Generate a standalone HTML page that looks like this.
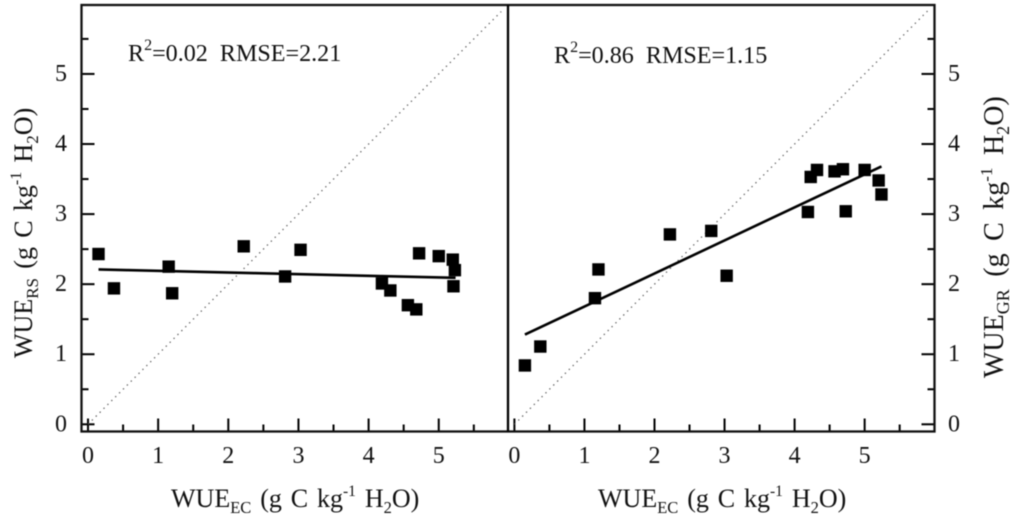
<!DOCTYPE html>
<html lang="en">
<head>
<meta charset="utf-8">
<title>WUE comparison scatter plots</title>
<style>
html,body{margin:0;padding:0;background:#fff;width:1024px;height:525px;overflow:hidden}
svg{display:block;filter:blur(0.45px)}
text{font-family:"Liberation Serif",serif;fill:#111;white-space:pre}
</style>
</head>
<body>
<svg id="chart" xmlns="http://www.w3.org/2000/svg" width="1024" height="525" viewBox="0 0 1024 525">
  <rect x="0" y="0" width="1024" height="525" fill="#fff"/>
  <g id="left-panel"></g>
  <g id="right-panel"></g>
  <rect x="81.5" y="5" width="853" height="426.5" fill="none" stroke="#111" stroke-width="2.3"/>
  <line x1="508" y1="5" x2="508" y2="431.5" stroke="#000" stroke-width="2.3"/>

  <text x="128" y="61" font-size="24.1" xml:space="preserve">R<tspan font-size="16" dy="-11">2</tspan><tspan dy="11">=0.02  RMSE=2.21</tspan></text>
  <text x="554" y="63" font-size="24.1" xml:space="preserve">R<tspan font-size="16" dy="-11">2</tspan><tspan dy="11">=0.86  RMSE=1.15</tspan></text>

  <text x="171" y="507" font-size="26" word-spacing="2.4" xml:space="preserve">WUE<tspan font-size="16.5" dy="6">EC</tspan><tspan dy="-6"> (g C kg</tspan><tspan font-size="15.5" dy="-11">-1</tspan><tspan dy="11"> H</tspan><tspan font-size="16.5" dy="6">2</tspan><tspan dy="-6">O)</tspan></text>
  <text x="598" y="507" font-size="26" word-spacing="2.4" xml:space="preserve">WUE<tspan font-size="16.5" dy="6">EC</tspan><tspan dy="-6"> (g C kg</tspan><tspan font-size="15.5" dy="-11">-1</tspan><tspan dy="11"> H</tspan><tspan font-size="16.5" dy="6">2</tspan><tspan dy="-6">O)</tspan></text>
  <text transform="translate(32 358) rotate(-90)" font-size="26" word-spacing="2.8" xml:space="preserve">WUE<tspan font-size="17" dy="6">RS</tspan><tspan dy="-6"> (g C kg</tspan><tspan font-size="16" dy="-11">-1</tspan><tspan dy="11"> H</tspan><tspan font-size="17" dy="6">2</tspan><tspan dy="-6">O)</tspan></text>
  <text transform="translate(1003 378) rotate(-90)" font-size="28" word-spacing="5.5" xml:space="preserve">WUE<tspan font-size="18" dy="6">GR</tspan><tspan dy="-6"> (g C kg</tspan><tspan font-size="17" dy="-11">-1</tspan><tspan dy="11"> H</tspan><tspan font-size="18" dy="6">2</tspan><tspan dy="-6">O)</tspan></text>
</svg>
<script>
// Shared data
var ecValues = [0.15, 0.37, 1.15, 1.20, 2.22, 2.81, 3.03, 4.19, 4.31, 4.56, 4.68, 4.72, 5.00, 5.20, 5.21, 5.23];
var rsValues = [2.43, 1.94, 2.25, 1.87, 2.54, 2.11, 2.49, 2.01, 1.91, 1.70, 1.64, 2.44, 2.40, 2.35, 1.97, 2.20];
var grEcValues = [0.15, 0.37, 1.15, 1.20, 2.22, 2.81, 3.03, 4.19, 4.23, 4.32, 4.57, 4.69, 4.73, 5.00, 5.20, 5.24];
var grValues = [0.84, 1.11, 1.80, 2.21, 2.71, 2.76, 2.12, 3.03, 3.53, 3.63, 3.61, 3.64, 3.04, 3.63, 3.48, 3.28];
var rsFitX = [0.15, 5.24];
var rsFitY = [2.21, 2.09];
var grFitX = [0.15, 5.24];
var grFitY = [1.28, 3.68];
var identityLeft = [0, 5.89];
var identityRight = [0, 5.92];
var majorTicks = [0, 1, 2, 3, 4, 5];
var minorTicks = [0.5, 1.5, 2.5, 3.5, 4.5, 5.5];

var NS = 'http://www.w3.org/2000/svg';

function xLeft(v) { return 88 + v * 70.15; }
function xRight(v) { return 514.4 + v * 70.05; }
function yAxis(v) { return 424.3 - v * 70.07; }

function makeLine(parent, x1, y1, x2, y2, width, name) {
  var el = document.createElementNS(NS, 'line');
  el.setAttribute('x1', x1);
  el.setAttribute('y1', y1);
  el.setAttribute('x2', x2);
  el.setAttribute('y2', y2);
  el.setAttribute('stroke', '#000');
  el.setAttribute('stroke-width', width);
  
  
  parent.appendChild(el);
  return el;
}

function makeLabel(parent, x, y, str, name) {
  var el = document.createElementNS(NS, 'text');
  el.setAttribute('x', x);
  el.setAttribute('y', y);
  el.setAttribute('font-size', '24');
  el.setAttribute('text-anchor', 'middle');
  el.textContent = str;
  
  
  parent.appendChild(el);
}

function drawPanel(parent, xFn, xs, ys, fitX, fitY, identity, side) {
  var axisX = side === 'left' ? 81.5 : 934.5;
  var dir = side === 'left' ? 1 : -1;
  var bottom = 431.5;
  var labelX = side === 'left' ? 61 : 954;

  majorTicks.forEach(function (t) {
    makeLine(parent, xFn(t), bottom, xFn(t), bottom - 13, 2, 'x-major-tick');
    makeLabel(parent, xFn(t), 463, String(t), 'x-tick-label');
    makeLine(parent, axisX, yAxis(t), axisX + dir * 13, yAxis(t), 2, 'y-major-tick');
    makeLabel(parent, labelX, yAxis(t) + 7, String(t), 'y-tick-label');
  });
  minorTicks.forEach(function (t) {
    makeLine(parent, xFn(t), bottom, xFn(t), bottom - 7, 2, 'x-minor-tick');
    makeLine(parent, axisX, yAxis(t), axisX + dir * 7, yAxis(t), 2, 'y-minor-tick');
  });

  var idLine = makeLine(parent, xFn(identity[0]), yAxis(identity[0]), xFn(identity[1]), yAxis(identity[1]), 1.2, 'one-to-one-line');
  idLine.setAttribute('stroke', '#555');
  idLine.setAttribute('stroke-dasharray', '1.3 4.2');

  makeLine(parent, xFn(fitX[0]), yAxis(fitY[0]), xFn(fitX[1]), yAxis(fitY[1]), 2.6, 'regression-line');

  xs.forEach(function (x, i) {
    var pt = document.createElementNS(NS, 'rect');
    pt.setAttribute('x', xFn(x) - 6.2);
    pt.setAttribute('y', yAxis(ys[i]) - 6.2);
    pt.setAttribute('width', 12.4);
    pt.setAttribute('height', 12.4);
    pt.setAttribute('fill', '#000');
    
    
    parent.appendChild(pt);
  });
}

drawPanel(document.getElementById('left-panel'), xLeft, ecValues, rsValues, rsFitX, rsFitY, identityLeft, 'left');
drawPanel(document.getElementById('right-panel'), xRight, grEcValues, grValues, grFitX, grFitY, identityRight, 'right');
</script>
</body>
</html>
